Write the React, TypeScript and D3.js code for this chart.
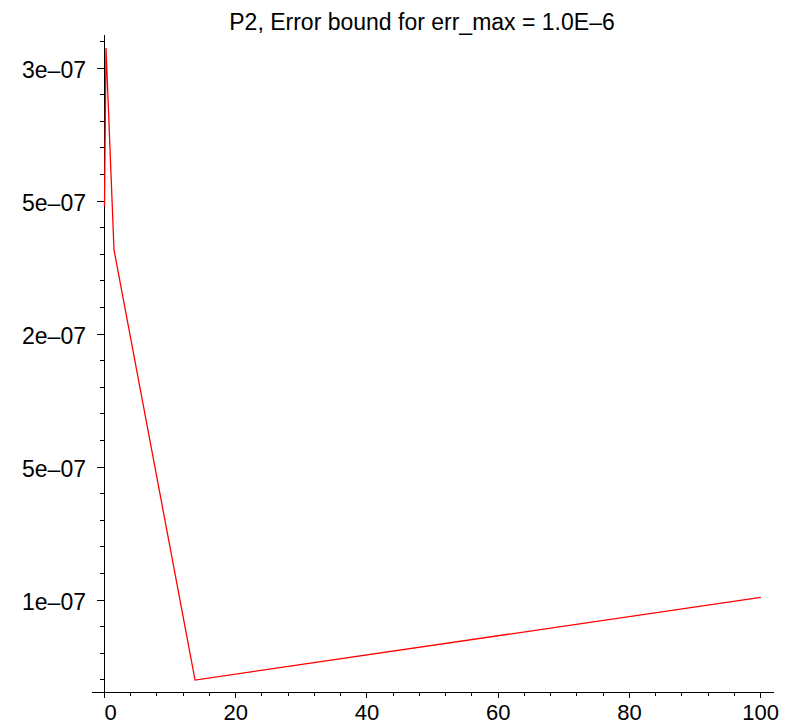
import React from "react";
import * as d3 from "d3";

// Error bound samples (step size vs. bound)
const xValues = [0, 0.23, 1.45, 13.8, 100];
const yValues = [2.48e-7, 3.075e-7, 2.316e-7, 0.699e-7, 1.01e-7];

const xTicks = [0, 20, 40, 60, 80, 100];
const xTickLabels = ["0", "20", "40", "60", "80", "100"];
const yTicks = [1e-7, 1.5e-7, 2e-7, 2.5e-7, 3e-7];
const yTickLabels = ["1e\u201307", "5e\u201307", "2e\u201307", "5e\u201307", "3e\u201307"];

const title = "P2, Error bound for err_max = 1.0E\u20136";

const W = 789;
const H = 724;
const FONT = "'Liberation Sans', Arial, Helvetica, sans-serif";

export default function App() {
  const x = d3.scaleLinear().domain([0, 100]).range([104.5, 760.7]);
  const y = d3.scaleLinear().domain([1e-7, 3e-7]).range([600, 68]);

  const xMin = -1.9;
  const xMax = 102.1;
  const yMin = 0.6515e-7;
  const yMax = 3.124e-7;

  const xMinor = d3.range(0, 101, 4).filter((v) => v % 20 !== 0);
  const yMinor = d3
    .range(0, 25)
    .map((i) => 0.7e-7 + i * 0.1e-7)
    .filter((v) => v > yMin && v < yMax && Math.abs((v / 0.5e-7) - Math.round(v / 0.5e-7)) > 1e-6);

  const line = d3
    .line<number>()
    .x((_, i) => x(xValues[i]))
    .y((d) => y(d));

  const axisY = y(yMin);

  return (
    <svg
      width={W}
      height={H}
      style={{ position: "absolute", left: 0, top: 0, background: "#fff" }}
      fontFamily={FONT}
    >
      <text x={422} y={30} textAnchor="middle" fontSize={23} fill="#000">
        {title}
      </text>

      {/* axes */}
      <g stroke="#000" strokeWidth={1} fill="none" shapeRendering="crispEdges">
        <line x1={x(xMin)} x2={x(xMax)} y1={axisY} y2={axisY} />
        <line x1={x(0)} x2={x(0)} y1={axisY + 5} y2={y(yMax)} />
        {xTicks.map((t) => (
          <line key={"xt" + t} x1={x(t)} x2={x(t)} y1={axisY} y2={axisY + 5} />
        ))}
        {xMinor.map((t) => (
          <line key={"xm" + t} x1={x(t)} x2={x(t)} y1={axisY} y2={axisY + 3} />
        ))}
        {yTicks.map((t) => (
          <line key={"yt" + t} x1={x(0) - 8} x2={x(0)} y1={y(t)} y2={y(t)} />
        ))}
        {yMinor.map((t) => (
          <line key={"ym" + t} x1={x(0) - 5} x2={x(0)} y1={y(t)} y2={y(t)} />
        ))}
      </g>

      {xTicks.map((t, i) => (
        <text
          key={"xl" + t}
          x={x(t) + (t === 0 ? 6 : 0)}
          y={720}
          textAnchor="middle"
          fontSize={22}
          fill="#000"
        >
          {xTickLabels[i]}
        </text>
      ))}
      {yTicks.map((t, i) => (
        <text
          key={"yl" + t}
          x={86}
          y={y(t) + 2}
          textAnchor="end"
          dominantBaseline="central"
          fontSize={23}
          fill="#000"
        >
          {yTickLabels[i]}
        </text>
      ))}

      <path d={line(yValues) || ""} fill="none" stroke="#ff0000" strokeWidth={1.3} />
    </svg>
  );
}
